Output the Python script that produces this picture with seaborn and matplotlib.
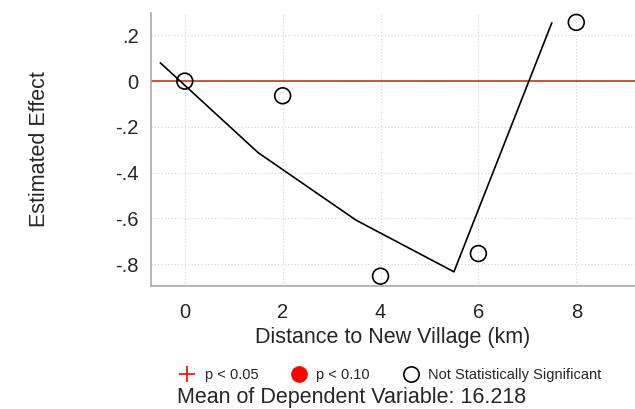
import numpy as np
import pandas as pd
import matplotlib
matplotlib.use("Agg")
import matplotlib.pyplot as plt
from matplotlib.lines import Line2D
import seaborn as sns

# point estimates by distance bin
dist = [0, 2, 4, 6, 8]
effect = [0.0, -0.064, -0.853, -0.754, 0.257]
signif = ["ns", "ns", "ns", "ns", "ns"]

# fitted line
fit_x = [-0.5, 1.5, 3.5, 5.5, 7.5]
fit_y = [0.08, -0.313, -0.608, -0.834, 0.255]

xticks = [0, 2, 4, 6, 8]
yticks = [0.2, 0, -0.2, -0.4, -0.6, -0.8]
ytick_labels = [".2", "0", "-.2", "-.4", "-.6", "-.8"]
mean_dep = 16.218

sns.set_style("white")
plt.rcParams["font.family"] = ["Liberation Sans", "DejaVu Sans"]

pts = pd.DataFrame({"dist": dist, "effect": effect, "sig": signif})
fit = pd.DataFrame({"x": fit_x, "y": fit_y})

fig = plt.figure(figsize=(6.35, 4.09), dpi=100)
ax = fig.add_axes([151 / 635, 1 - 286 / 409, 484 / 635, 273 / 409])

ax.axhline(0, color="#b5261e", lw=1.1, zorder=1)
sns.lineplot(data=fit, x="x", y="y", color="black", lw=1.2, ax=ax, zorder=2)
sns.scatterplot(data=pts, x="dist", y="effect", s=130, facecolor="none",
                edgecolor="black", linewidth=1.2, ax=ax, zorder=3)

ax.set_xlim(-0.69, 9.2)
ax.set_ylim(-0.896, 0.298)
ax.set_xticks(xticks)
ax.set_yticks(yticks)
ax.set_yticklabels(ytick_labels)
ax.tick_params(axis="both", labelsize=14.5, length=3, color="#aaaaaa")
ax.tick_params(axis="x", pad=9)
ax.tick_params(axis="y", pad=6)
ax.grid(True, color="#d4d4d4", ls=(0, (1, 2)), lw=0.8)
ax.set_axisbelow(True)
for s in ["top", "right"]:
    ax.spines[s].set_color("none")
for s in ["left", "bottom"]:
    ax.spines[s].set_color("#aaaaaa")
    ax.spines[s].set_linewidth(1.2)

ax.set_xlabel("Distance to New Village (km)", fontsize=15.5, labelpad=4)
ax.set_ylabel("")
fig.text(40 / 635, 1 - 149 / 409, "Estimated Effect", rotation=90,
         ha="center", va="center", fontsize=15.5)

handles = [
    Line2D([], [], marker="+", color="red", ls="none", markersize=11, mew=1.2),
    Line2D([], [], marker="o", color="red", ls="none", markersize=11),
    Line2D([], [], marker="o", markerfacecolor="none", markeredgecolor="black",
           ls="none", markersize=11, mew=1.2),
]
fig.legend(handles, ["p < 0.05", "p < 0.10", "Not Statistically Significant"],
           loc="center", bbox_to_anchor=(390 / 635, 1 - 375 / 409), ncol=3,
           frameon=False, fontsize=10.5, handletextpad=0.6, columnspacing=2.2,
           handlelength=1.2)
fig.text(352 / 635, 1 - 398 / 409, f"Mean of Dependent Variable: {mean_dep}",
         ha="center", va="center", fontsize=15.5)

fig.savefig("out.png", dpi=100)
